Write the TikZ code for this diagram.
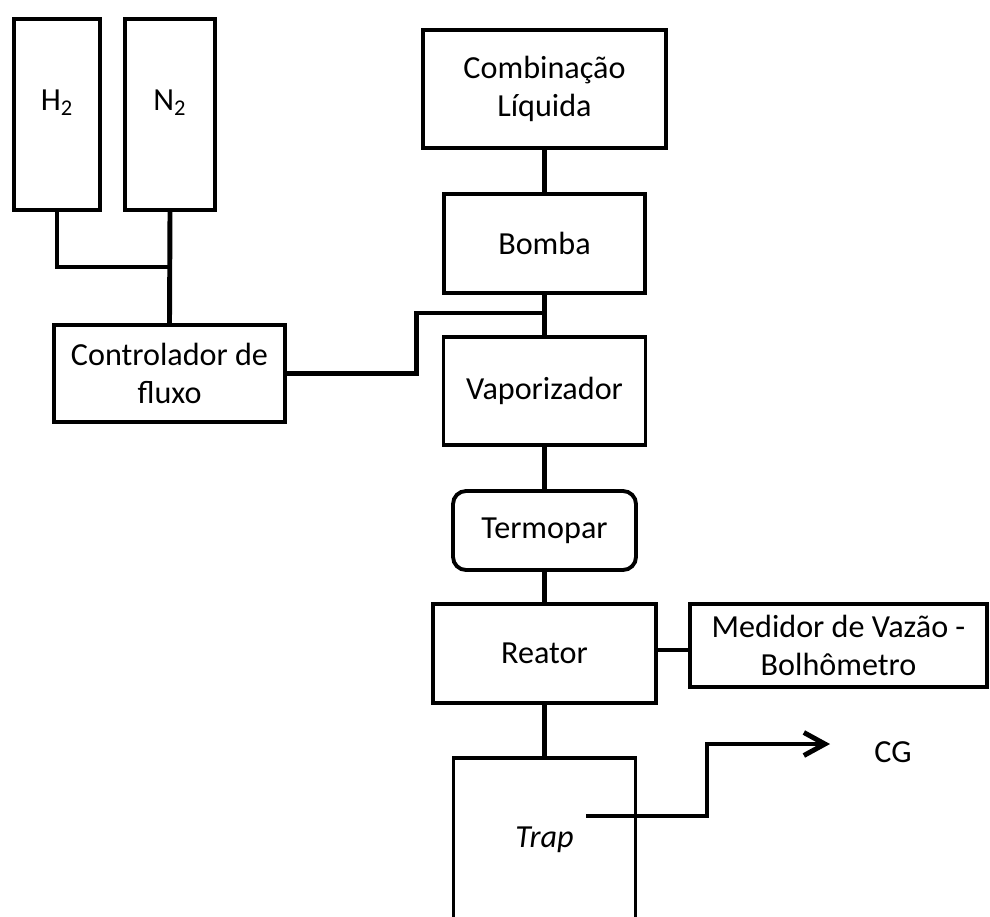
\documentclass[tikz,border=0pt]{standalone}
\usepackage{fontspec}
\setmainfont{Carlito}
\usetikzlibrary{arrows.meta}
\tikzset{
  box/.style={draw,line width=2.2pt,align=center,inner sep=0pt},
  tank/.style={box,minimum height=3.82cm,text height=12pt,text depth=16.6pt},
  pipe/.style={line width=2.8pt}
}
\begin{document}
\begin{tikzpicture}[x=0.02cm,y=-0.02cm,font=\fontsize{18.3}{22}\selectfont]
        \useasboundingbox(0,0)rectangle(990,916);
        \clip(0,0)rectangle(990,916);
        % gases
        \node[tank,minimum width=1.72cm](h2)at(57,114.5){H\textsubscript{2}};
        \node[tank,minimum width=1.80cm](n2)at(170,114.5){N\textsubscript{2}};
        \node[box,minimum width=4.62cm,minimum height=1.94cm](ctrl)at(169.5,373.5){Controlador de\\fluxo};
        % linha principal
        \node[box,minimum width=4.86cm,minimum height=2.36cm](comb)at(544.5,89){Combinação\\Líquida};
        \node[box,minimum width=4.02cm,minimum height=1.98cm](bomba)at(544.5,243.5){Bomba};
        \node[box,minimum width=4.04cm,minimum height=2.16cm](vap)at(544.5,391){Vaporizador};
        \node[box,rounded corners=0.26cm,minimum width=3.66cm,minimum height=1.58cm](termo)at(544.5,530.5){Termopar};
        \node[box,minimum width=4.46cm,minimum height=1.98cm](reat)at(544.5,653.5){Reator};
        \node[box,minimum width=5.94cm,minimum height=1.66cm](med)at(838.5,645.5){Medidor de Vazão -\\Bolhômetro};
        \node[box,minimum width=3.64cm,minimum height=3.28cm](trap)at(544.5,840){\textit{Trap}};
        \node(cg)at(893,752){CG};
        \coordinate(j1)at(170,267);
        \coordinate(j2)at(544.5,313);
        \coordinate(tout)at(586,816);
        \coordinate(cgin)at(830,744);
        % ligacoes
        \draw[pipe](h2.south)|-(j1);
        \draw[pipe](n2.south)--(ctrl.north);
        \draw[pipe](ctrl.east)--++(130,0)|-(j2);
        \draw[pipe](comb.south)--(bomba.north);
        \draw[pipe](bomba.south)--(vap.north);
        \draw[pipe](vap.south)--(termo.north);
        \draw[pipe](termo.south)--(reat.north);
        \draw[pipe](reat.east|-0,650)--(med.west|-0,650);
        \draw[pipe](reat.south)--(trap.north);
        \draw[pipe,-{Straight Barb[length=0.42cm,width=0.46cm]}](tout)--++(121,0)|-(cgin);
\end{tikzpicture}
\end{document}
